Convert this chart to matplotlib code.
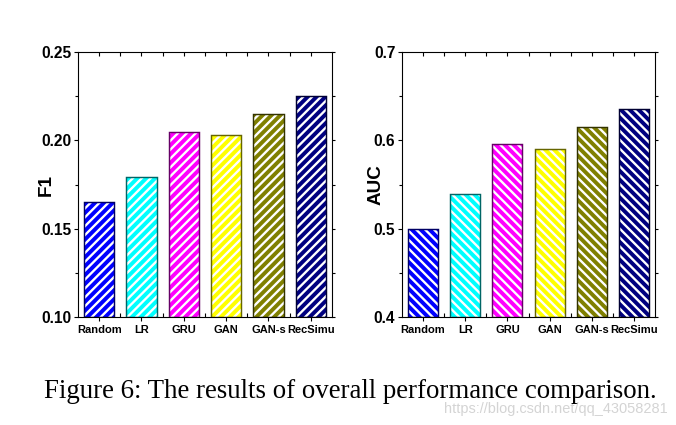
import matplotlib
matplotlib.use("Agg")
import matplotlib.pyplot as plt
import numpy as np
from matplotlib.ticker import MultipleLocator, FixedLocator
import matplotlib.colors as mcolors

methods = ["Random", "LR", "GRU", "GAN", "GAN-s", "RecSimu"]
f1_values = [0.165, 0.179, 0.205, 0.203, 0.215, 0.225]
auc_values = [0.500, 0.539, 0.596, 0.590, 0.615, 0.636]
bar_colors = ["#0000ff", "#00ffff", "#ff00ff", "#ffff00", "#808000", "#000080"]
f1_ticks = [0.10, 0.15, 0.20, 0.25]
auc_ticks = [0.4, 0.5, 0.6, 0.7]
caption = "Figure 6: The results of overall performance comparison."
watermark = "https://blog.csdn.net/qq_43058281"

DPI = 80
plt.rcParams["hatch.linewidth"] = 2.1
plt.rcParams["font.family"] = ["Liberation Sans", "DejaVu Sans"]

fig = plt.figure(figsize=(676 / DPI, 425 / DPI), dpi=DPI)

def darker(c, f=0.4):
    r, g, b = mcolors.to_rgb(c)
    return (r * f, g * f, b * f)

def panel(rect, values, ticks, ylabel, hatch, fmt, label_x):
    ax = fig.add_axes(rect)
    x = np.arange(len(methods))
    w = 0.71
    base = ticks[0]
    heights = [v - base for v in values]
    ax.bar(x, heights, w, bottom=base, color=bar_colors, edgecolor="white",
           hatch=hatch, linewidth=0, zorder=2)
    ax.bar(x, heights, w, bottom=base, fill=False,
           edgecolor=[darker(c) for c in bar_colors], linewidth=1.3, zorder=3)
    ax.set_xlim(-0.5, len(methods) - 0.5)
    ax.set_ylim(ticks[0], ticks[-1])
    ax.set_yticks(ticks)
    ax.set_yticklabels([fmt.format(t) for t in ticks], fontsize=14, fontweight="bold")
    ax.yaxis.set_minor_locator(MultipleLocator((ticks[1] - ticks[0]) / 2))
    ax.set_xticks(x)
    ax.set_xticklabels(methods, fontsize=10, fontweight="bold")
    ax.xaxis.set_minor_locator(FixedLocator(np.arange(0.5, len(methods) - 0.5, 1)))
    ax.tick_params(axis="x", which="major", direction="out", length=4, width=1, pad=3)
    ax.tick_params(axis="x", which="minor", direction="in", length=4, width=1)
    ax.tick_params(axis="y", which="major", direction="out", length=4, width=1, pad=2)
    ax.tick_params(axis="y", which="minor", direction="out", length=3, width=1)
    ax.set_ylabel(ylabel, fontsize=17, fontweight="bold")
    ax.yaxis.set_label_coords(label_x, 0.5)
    for s in ax.spines.values():
        s.set_linewidth(1.0)
    top = ax.secondary_xaxis("top")
    top.set_xticks(x)
    top.set_xticklabels([])
    top.xaxis.set_minor_locator(FixedLocator(np.arange(0.5, len(methods) - 0.5, 1)))
    top.tick_params(axis="x", which="both", direction="in", length=4, width=1)
    right = ax.secondary_yaxis("right")
    right.set_yticks(ticks)
    right.set_yticklabels([])
    right.yaxis.set_minor_locator(MultipleLocator((ticks[1] - ticks[0]) / 2))
    right.tick_params(axis="y", which="both", direction="out", length=3, width=1)
    return ax

panel([78 / 676, 108 / 425, 254 / 676, 265 / 425], f1_values, f1_ticks, "F1", "///",
      "{:.2f}", -0.09)
panel([402 / 676, 108 / 425, 253 / 676, 265 / 425], auc_values, auc_ticks, "AUC", "\\\\\\",
      "{:.1f}", -0.07)

fig.text(350 / 676, 1 - 392 / 425, caption, family=["Liberation Serif", "DejaVu Serif"],
         fontsize=24.2, ha="center", va="center", color="black")
fig.text(668 / 676, 1 - 409 / 425, watermark, fontsize=13, ha="right", va="center",
         color="#d4d4d4", zorder=-1)

fig.savefig("out.png", dpi=DPI)
